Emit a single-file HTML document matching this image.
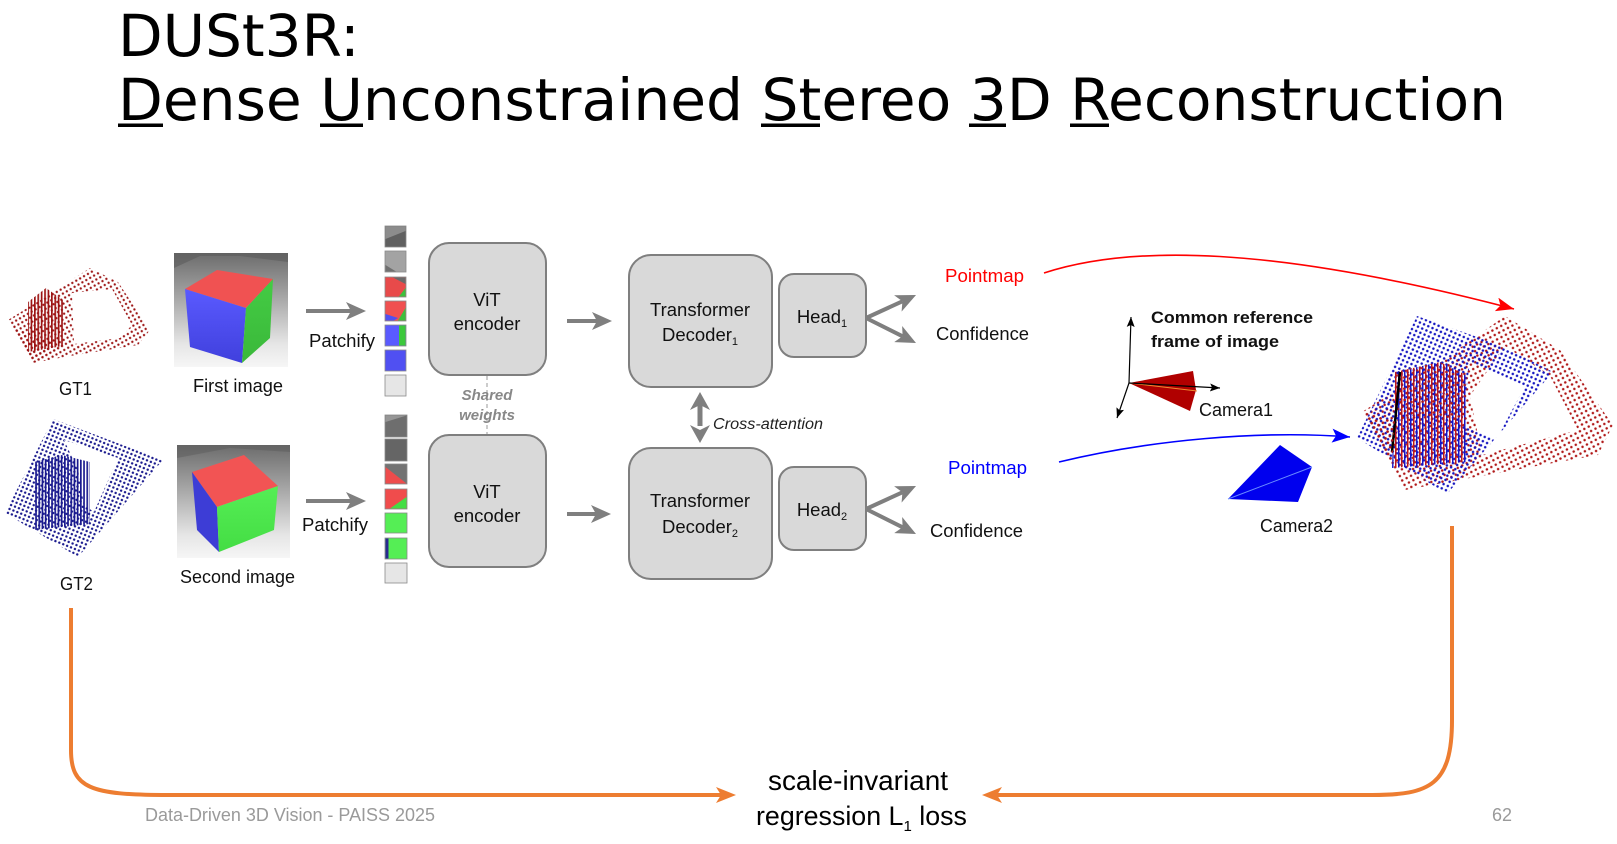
<!DOCTYPE html>
<html><head><meta charset="utf-8"><style>
html,body{margin:0;padding:0;background:#fff;}
body{width:1617px;height:844px;overflow:hidden;}
svg{display:block;}
.t{font-family:"Liberation Sans",sans-serif;font-size:18.5px;fill:#111;}
</style></head><body>
<svg width="1617" height="844" viewBox="0 0 1617 844" xmlns="http://www.w3.org/2000/svg">
<defs>
  <marker id="ag" viewBox="0 0 20 18" refX="5" refY="9" markerWidth="20" markerHeight="18" markerUnits="userSpaceOnUse" orient="auto"><path d="M0 0 L20 9 L0 18 L5 9Z" fill="#7f7f7f"/></marker>
  <marker id="ao" viewBox="0 0 20 16" refX="5" refY="8" markerWidth="20" markerHeight="16" markerUnits="userSpaceOnUse" orient="auto"><path d="M0 0 L20 8 L0 16 L5 8Z" fill="#ed7d31"/></marker>
  <marker id="ar" viewBox="0 0 18 14" refX="18" refY="7" markerWidth="18" markerHeight="14" markerUnits="userSpaceOnUse" orient="auto"><path d="M0 0 L18 7 L0 14 L4 7Z" fill="#ff0000"/></marker>
  <marker id="ab" viewBox="0 0 18 14" refX="18" refY="7" markerWidth="18" markerHeight="14" markerUnits="userSpaceOnUse" orient="auto"><path d="M0 0 L18 7 L0 14 L4 7Z" fill="#0000ff"/></marker>
  <marker id="ak" viewBox="0 0 10 8" refX="10" refY="4" markerWidth="10" markerHeight="8" markerUnits="userSpaceOnUse" orient="auto"><path d="M0 0 L10 4 L0 8 L2 4Z" fill="#000"/></marker>
  <linearGradient id="bg1" x1="0" y1="0" x2="0" y2="1">
    <stop offset="0" stop-color="#6c6c6c"/><stop offset="0.35" stop-color="#a0a0a0"/><stop offset="0.8" stop-color="#e6e6e6"/><stop offset="1" stop-color="#f6f6f6"/>
  </linearGradient>
  <linearGradient id="gB" x1="0" y1="0" x2="0" y2="1"><stop offset="0" stop-color="#5a5aff"/><stop offset="1" stop-color="#4040dd"/></linearGradient>
  <linearGradient id="gG" x1="0" y1="0" x2="0" y2="1"><stop offset="0" stop-color="#44cc44"/><stop offset="1" stop-color="#3ab83a"/></linearGradient>
  <linearGradient id="gG2" x1="0" y1="0" x2="0" y2="1"><stop offset="0" stop-color="#55ee55"/><stop offset="1" stop-color="#44dd44"/></linearGradient>
  <pattern id="pr" width="5" height="5" patternUnits="userSpaceOnUse" patternTransform="rotate(-28)"><circle cx="2.5" cy="2.5" r="1.25" fill="#b01818"/></pattern>
  <pattern id="pr1" width="4.5" height="4.5" patternUnits="userSpaceOnUse" patternTransform="rotate(-30)"><circle cx="2.2" cy="2.2" r="1.15" fill="#9c1414"/></pattern>
  <pattern id="pb" width="4.6" height="4.6" patternUnits="userSpaceOnUse" patternTransform="rotate(24)"><circle cx="2.3" cy="2.3" r="1.25" fill="#1414c0"/></pattern>
  <pattern id="pb1" width="4.2" height="4.2" patternUnits="userSpaceOnUse" patternTransform="rotate(22)"><circle cx="2.1" cy="2.1" r="1.2" fill="#1a1a8e"/></pattern>
  <pattern id="sr" width="3.4" height="4" patternUnits="userSpaceOnUse"><rect x="0" y="0" width="1.7" height="4" fill="#9c1414"/></pattern>
  <pattern id="sb" width="3.2" height="4" patternUnits="userSpaceOnUse"><rect x="0" y="0" width="1.7" height="4" fill="#1a1a8e"/></pattern>
  <pattern id="smix" width="6" height="4" patternUnits="userSpaceOnUse"><rect x="0" y="0" width="1.5" height="4" fill="#1515c8"/><rect x="3" y="0" width="1.5" height="4" fill="#c01818"/></pattern>
</defs>

<!-- Title -->
<g font-family="DejaVu Sans, sans-serif" font-size="58" fill="#000">
  <text x="118" y="56">DUSt3R:</text>
  <text x="118" y="120" textLength="1388" lengthAdjust="spacingAndGlyphs">Dense Unconstrained Stereo 3D Reconstruction</text>
</g>
<g fill="#000">
  <rect x="118" y="123.5" width="45" height="3.5"/>
  <rect x="320" y="123.5" width="43" height="3.5"/>
  <rect x="761" y="123.5" width="59" height="3.5"/>
  <rect x="969" y="123.5" width="37" height="3.5"/>
  <rect x="1070" y="123.5" width="39" height="3.5"/>
</g>

<!-- GT1 point cloud -->
<path d="M90 268 L118 282 L150 330 L138 345 L70 356 L33 363 L8 320 L40 300 Z M72 293 L112 289 L132 325 L120 338 L74 344 Z" fill="url(#pr1)" fill-rule="evenodd"/>
<path d="M28 302 L46 288 L63 300 L63 346 L28 352 Z" fill="url(#sr)"/>
<path d="M20 330 L63 346 L33 363 L10 325Z" fill="url(#pr1)"/>
<!-- GT2 point cloud -->
<path d="M53 419 L163 460 L78 557 L5 513 Z M64 440 L118 458 L94 512 L84 505 L78 470 Z" fill="url(#pb1)" fill-rule="evenodd"/>
<path d="M34 462 L62 455 L90 462 L90 524 L34 530 Z" fill="url(#sb)"/>

<!-- First image -->
<rect x="174" y="253" width="114" height="114" fill="url(#bg1)"/>
<polygon points="174,253 288,253 288,262 240,256 200,256 174,268" fill="#5c5c5c" opacity="0.6"/>
<polygon points="185,289 217,270 273,279 246,308" fill="#f05252"/>
<polygon points="185,289 246,308 242,363 190,347" fill="url(#gB)"/>
<polygon points="246,308 273,279 270,338 242,363" fill="url(#gG)"/>
<!-- Second image -->
<rect x="177" y="445" width="113" height="113" fill="url(#bg1)"/>
<polygon points="177,445 290,445 290,452 230,448 177,458" fill="#5c5c5c" opacity="0.5"/>
<polygon points="192,472 244,455 278,486 217,507" fill="#f25454"/>
<polygon points="192,472 217,507 219,552 197,530" fill="#3d3dd6"/>
<polygon points="217,507 278,486 274,530 219,552" fill="url(#gG2)"/>

<!-- Labels left -->
<text class="t" x="59" y="395" textLength="33" lengthAdjust="spacingAndGlyphs">GT1</text>
<text class="t" x="193" y="392" textLength="90" lengthAdjust="spacingAndGlyphs">First image</text>
<text class="t" x="309" y="347" textLength="66" lengthAdjust="spacingAndGlyphs">Patchify</text>
<text class="t" x="60" y="590" textLength="33" lengthAdjust="spacingAndGlyphs">GT2</text>
<text class="t" x="180" y="583" textLength="115" lengthAdjust="spacingAndGlyphs">Second image</text>
<text class="t" x="302" y="531" textLength="66" lengthAdjust="spacingAndGlyphs">Patchify</text>

<!-- Gray arrows -->
<g stroke="#7f7f7f" stroke-width="4" fill="none">
  <line x1="306" y1="311" x2="351" y2="311" marker-end="url(#ag)"/>
  <line x1="306" y1="501" x2="351" y2="501" marker-end="url(#ag)"/>
  <line x1="567" y1="321" x2="597" y2="321" marker-end="url(#ag)"/>
  <line x1="567" y1="514" x2="596" y2="514" marker-end="url(#ag)"/>
  <line x1="866" y1="318" x2="902.4" y2="301.3" marker-end="url(#ag)"/>
  <line x1="866" y1="318" x2="902.6" y2="336.3" marker-end="url(#ag)"/>
  <line x1="866" y1="509" x2="902.4" y2="492.3" marker-end="url(#ag)"/>
  <line x1="866" y1="509" x2="902.6" y2="527.3" marker-end="url(#ag)"/>
</g>

<!-- Patches top -->
<g stroke="#8a8a8a" stroke-width="0.8">
  <rect x="385" y="226" width="21" height="21" fill="#606060"/>
  <rect x="385" y="251" width="21" height="21" fill="#a3a3a3"/>
  <rect x="385" y="277" width="21" height="20" fill="#e84a4a"/>
  <rect x="385" y="301" width="21" height="20" fill="#f05050"/>
  <rect x="385" y="325" width="21" height="21" fill="#5a5aff"/>
  <rect x="385" y="350" width="21" height="21" fill="#5050f2"/>
  <rect x="385" y="375" width="21" height="21" fill="#e6e6e6"/>
</g>
<polygon points="385.5,226.5 405.5,226.5 405.5,231 385.5,239" fill="#8c8c8c"/>
<polygon points="385.5,265 396,271.5 385.5,271.5" fill="#707070"/>
<polygon points="393,277.5 405.5,277.5 405.5,284" fill="#6a6a6a"/>
<polygon points="405.5,288 405.5,296.5 399,296.5" fill="#3cc03c"/>
<polygon points="385.5,314 398,318 394,320.5 385.5,320.5" fill="#5050f0"/>
<polygon points="405.5,308 405.5,320.5 398,320.5" fill="#3cc03c"/>
<rect x="399" y="325.5" width="6.5" height="20" fill="#3cc83c"/>
<!-- Patches bottom -->
<g stroke="#8a8a8a" stroke-width="0.8">
  <rect x="385" y="415" width="22" height="22" fill="#6e6e6e"/>
  <rect x="385" y="439" width="22" height="22" fill="#656565"/>
  <rect x="385" y="464" width="22" height="20" fill="#737373"/>
  <rect x="385" y="489" width="22" height="20" fill="#f04c4c"/>
  <rect x="385" y="513" width="22" height="20" fill="#55ee55"/>
  <rect x="385" y="538" width="22" height="21" fill="#55ee55"/>
  <rect x="385" y="563" width="22" height="20" fill="#e6e6e6"/>
</g>
<polygon points="385.5,415.5 406.5,415.5 385.5,422" fill="#969696"/>
<polygon points="385.5,467 406.5,483.5 385.5,483.5" fill="#ee4c4c"/>
<polygon points="406.5,497 406.5,508.5 390,508.5" fill="#45dd45"/>
<rect x="385.5" y="538.5" width="3" height="20" fill="#2a2a90"/>

<!-- Boxes -->
<g fill="#d9d9d9" stroke="#7f7f7f" stroke-width="2">
  <rect x="429" y="243" width="117" height="132" rx="20"/>
  <rect x="429" y="435" width="117" height="132" rx="20"/>
  <rect x="629" y="255" width="143" height="132" rx="22"/>
  <rect x="629" y="448" width="143" height="131" rx="22"/>
  <rect x="779" y="274" width="87" height="83" rx="15"/>
  <rect x="779" y="467" width="87" height="83" rx="15"/>
</g>
<text class="t" x="487" y="306" text-anchor="middle">ViT</text>
<text class="t" x="487" y="330" text-anchor="middle">encoder</text>
<text class="t" x="487" y="498" text-anchor="middle">ViT</text>
<text class="t" x="487" y="522" text-anchor="middle">encoder</text>
<text class="t" x="700" y="316" text-anchor="middle">Transformer</text>
<text class="t" x="700" y="341" text-anchor="middle">Decoder<tspan font-size="11" dy="4">1</tspan></text>
<text class="t" x="700" y="507" text-anchor="middle">Transformer</text>
<text class="t" x="700" y="533" text-anchor="middle">Decoder<tspan font-size="11" dy="4">2</tspan></text>
<text class="t" x="822" y="323" text-anchor="middle">Head<tspan font-size="11" dy="4">1</tspan></text>
<text class="t" x="822" y="516" text-anchor="middle">Head<tspan font-size="11" dy="4">2</tspan></text>

<!-- Shared weights -->
<line x1="487" y1="376" x2="487" y2="434" stroke="#9a9a9a" stroke-width="1" stroke-dasharray="4 3"/>
<text x="487" y="400" text-anchor="middle" font-family="Liberation Sans, sans-serif" font-size="15" font-weight="bold" font-style="italic" fill="#888">Shared</text>
<text x="487" y="420" text-anchor="middle" font-family="Liberation Sans, sans-serif" font-size="15" font-weight="bold" font-style="italic" fill="#888">weights</text>

<!-- Cross-attention -->
<g fill="#7f7f7f">
  <path d="M700 392 L710 410 L700 405 L690 410Z"/>
  <path d="M700 443 L710 425 L700 430 L690 425Z"/>
  <rect x="697.5" y="404" width="5" height="22"/>
</g>
<text x="713" y="429" font-family="Liberation Sans, sans-serif" font-size="15.5" font-style="italic" fill="#222" textLength="110" lengthAdjust="spacingAndGlyphs">Cross-attention</text>

<!-- Output labels -->
<text class="t" x="945" y="282" style="fill:#ff0000" textLength="79" lengthAdjust="spacingAndGlyphs">Pointmap</text>
<text class="t" x="936" y="340" textLength="93" lengthAdjust="spacingAndGlyphs">Confidence</text>
<text class="t" x="948" y="474" style="fill:#0000ff" textLength="79" lengthAdjust="spacingAndGlyphs">Pointmap</text>
<text class="t" x="930" y="537" textLength="93" lengthAdjust="spacingAndGlyphs">Confidence</text>

<!-- Curves -->
<path d="M1044 273 C1130 245 1270 245 1514 309" fill="none" stroke="#ff0000" stroke-width="1.6" marker-end="url(#ar)"/>
<path d="M1059 462 C1150 440 1260 430 1350 437" fill="none" stroke="#0000ff" stroke-width="1.6" marker-end="url(#ab)"/>

<!-- Common reference -->
<text x="1151" y="323" font-family="Liberation Sans, sans-serif" font-size="17" font-weight="bold" fill="#111" textLength="162" lengthAdjust="spacingAndGlyphs">Common reference</text>
<text x="1151" y="347" font-family="Liberation Sans, sans-serif" font-size="17" font-weight="bold" fill="#111" textLength="128" lengthAdjust="spacingAndGlyphs">frame of image</text>

<!-- Camera1 -->
<polygon points="1129,383 1193,371 1196,390 1190,411" fill="#b00000"/>
<line x1="1129" y1="383" x2="1197" y2="391" stroke="#f08a30" stroke-width="1"/>
<g stroke="#000" stroke-width="1.2" fill="none">
  <line x1="1129" y1="383" x2="1131" y2="317" marker-end="url(#ak)"/>
  <line x1="1129" y1="383" x2="1220" y2="388" marker-end="url(#ak)"/>
  <line x1="1129" y1="383" x2="1117" y2="418" marker-end="url(#ak)"/>
</g>
<text class="t" x="1199" y="416" textLength="74" lengthAdjust="spacingAndGlyphs">Camera1</text>

<!-- Camera2 -->
<polygon points="1280,445 1312,467 1298,502 1228,499" fill="#0000ee"/>
<line x1="1228" y1="499" x2="1312" y2="467" stroke="#6a8cff" stroke-width="1"/>
<text class="t" x="1260" y="532" textLength="73" lengthAdjust="spacingAndGlyphs">Camera2</text>

<!-- Merged point cloud -->
<path d="M1505 316 L1560 350 L1613 425 L1598 455 L1470 478 L1405 490 L1362 412 L1440 362 Z M1505 346 L1550 376 L1578 430 L1482 455 L1470 396 Z" fill="url(#pr)" fill-rule="evenodd"/>
<path d="M1417 316 L1500 345 L1553 372 L1447 494 L1357 438 Z M1470 362 L1525 386 L1496 440 L1462 425 Z" fill="url(#pb)" fill-rule="evenodd"/>
<path d="M1395 372 L1440 362 L1466 375 L1466 462 L1392 468 Z" fill="url(#smix)"/>
<path d="M1395 372 L1440 362 L1466 375 L1466 420 L1395 418 Z" fill="url(#pr)" opacity="0.9"/>
<line x1="1400" y1="372" x2="1392" y2="452" stroke="#000" stroke-width="2.5"/>
<path d="M1362 412 L1395 420 L1392 468 L1405 490 Z" fill="url(#pr)"/>

<!-- Orange loss arrows -->
<path d="M71 608 L71 750 C71 788 90 795 168 795 L721 795" fill="none" stroke="#ed7d31" stroke-width="4" marker-end="url(#ao)"/>
<path d="M1452 526 L1452 720 C1452 785 1430 795 1372 795 L997 795" fill="none" stroke="#ed7d31" stroke-width="4" marker-end="url(#ao)"/>

<!-- Loss text -->
<text x="768" y="790" font-family="Liberation Sans, sans-serif" font-size="28" fill="#000" textLength="180" lengthAdjust="spacingAndGlyphs">scale-invariant</text>
<text x="756" y="825" font-family="Liberation Sans, sans-serif" font-size="26.8" fill="#000">regression L<tspan font-size="15" dy="6">1</tspan><tspan dy="-6"> loss</tspan></text>

<!-- Footer -->
<text x="145" y="821" font-family="Liberation Sans, sans-serif" font-size="18" fill="#9a9a9a" textLength="290" lengthAdjust="spacingAndGlyphs">Data-Driven 3D Vision - PAISS 2025</text>
<text x="1492" y="821" font-family="Liberation Sans, sans-serif" font-size="18" fill="#9a9a9a" textLength="20" lengthAdjust="spacingAndGlyphs">62</text>
</svg>
</body></html>
